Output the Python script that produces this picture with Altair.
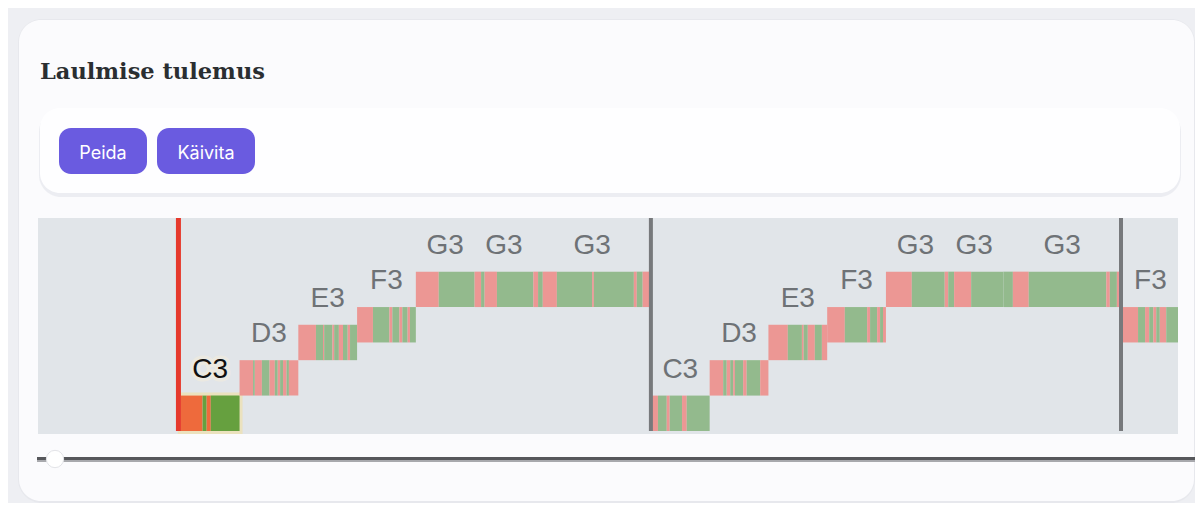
import altair as alt
import pandas as pd

# ---------------- data ----------------
TITLE = "Laulmise tulemus"
BUTTONS = ["Peida", "Käivita"]

NOTE_NAMES = ["C3", "D3", "E3", "F3", "G3", "G3", "G3",
              "C3", "D3", "E3", "F3", "G3", "G3", "G3", "F3"]
NOTE_PITCH = [48, 50, 52, 53, 55, 55, 55, 48, 50, 52, 53, 55, 55, 55, 53]
NOTE_START = [0, 1, 2, 3, 4, 5, 6, 8, 9, 10, 11, 12, 13, 14, 16]
NOTE_BEATS = [1, 1, 1, 1, 1, 1, 2, 1, 1, 1, 1, 1, 1, 2, 1]

# interior edges (in beats) where the sung pitch switched between miss / hit
STRIPE_EDGES = [
    [0.37, 0.44, 0.51],
    [1.23, 1.26, 1.38, 1.51, 1.60, 1.65, 1.69, 1.74, 1.80, 1.84],
    [2.30, 2.42, 2.44, 2.58, 2.61, 2.69, 2.76, 2.84, 2.88],
    [3.27, 3.55, 3.60, 3.72, 3.77, 3.86, 3.90],
    [4.39],
    [5.11, 5.17, 5.38],
    [6.08, 6.16, 6.40, 7.00, 7.03, 7.71, 7.76, 7.86],
    [8.12, 8.27, 8.32, 8.53, 8.61],
    [9.23, 9.29, 9.35, 9.40, 9.43, 9.57, 9.63, 9.86],
    [10.33, 10.57, 10.60, 10.67, 10.79, 10.91],
    [11.30, 11.68, 11.73, 11.85, 11.90, 11.95],
    [12.44],
    [13.06, 13.16, 13.45],
    [14.16, 14.43, 15.75, 15.81, 15.93],
    [16.29, 16.41, 16.48, 16.55, 16.60, 16.66, 16.77],
]
STRIPE_FIRST = ["miss"] * 13 + ["hit", "miss"]
ACTIVE_NOTE = 0
BAR_LINES = [8, 16]
PLAYHEAD = [-0.04]

# ---------------- tables ----------------
stripes = []
for i, (p, s, d, edges, first) in enumerate(
        zip(NOTE_PITCH, NOTE_START, NOTE_BEATS, STRIPE_EDGES, STRIPE_FIRST)):
    bounds = [s] + edges + [s + d]
    kind = first
    for a, b in zip(bounds[:-1], bounds[1:]):
        stripes.append(dict(t0=a, t1=b, p0=p, p1=p + 2,
                            kind=kind + ("_active" if i == ACTIVE_NOTE else "")))
        kind = "hit" if kind == "miss" else "miss"
stripes = pd.DataFrame(stripes)

notes = pd.DataFrame(dict(name=NOTE_NAMES, pitch=NOTE_PITCH,
                          start=NOTE_START, beats=NOTE_BEATS))
notes["end"] = notes["start"] + notes["beats"]
notes["mid"] = notes["start"] + notes["beats"] / 2
notes["top"] = notes["pitch"] + 2
notes["lab"] = notes["pitch"] + 3.0
notes["active"] = notes.index == ACTIVE_NOTE

bars = pd.DataFrame(dict(t=BAR_LINES))
play = pd.DataFrame(dict(t=PLAYHEAD))
one = pd.DataFrame(dict(k=[0]))

W, H = 1140, 216
xs = alt.Scale(domain=[-2.43, 16.97], nice=False, zero=False)
ys = alt.Scale(domain=[47.83, 60.03], nice=False, zero=False)


def box(x1, y1, x2, y2, color, r=0, **kw):
    return alt.Chart(one).mark_rect(color=color, cornerRadius=r, **kw).encode(
        x=alt.value(x1), x2=alt.value(x2), y=alt.value(y1), y2=alt.value(y2))


def label(txt, x, y, **kw):
    return alt.Chart(one).mark_text(text=txt, **kw).encode(
        x=alt.value(x), y=alt.value(y))


card_shadow = box(-20, -199, 1157, 285, "#e4e5ea", 24, opacity=0.7)
card = box(-19, -198, 1156, 283, "#fbfbfd", 22)
panel_shadow = box(1, -108, 1143, -21, "#e6e7ed", 22, opacity=0.7)
panel = box(2, -110, 1142, -25, "#fefeff", 20)
btn1 = box(21, -90, 109, -44, "#6a5be0", 12)
btn2 = box(119, -90, 217, -44, "#6a5be0", 12)
btn1_t = label(BUTTONS[0], 65, -59, font="Inter", fontSize=18, color="white",
               align="center", baseline="alphabetic")
btn2_t = label(BUTTONS[1], 168, -59, font="Inter", fontSize=18, color="white",
               align="center", baseline="alphabetic")
title = label(TITLE, 2, -139, font="DejaVu Serif", fontSize=22.5, fontWeight="bold",
              color="#2a2e31", align="left", baseline="alphabetic")
roll_bg = box(0, 0, W, H, "#e1e5e9", 0)

X0 = alt.X("t0:Q", scale=xs, axis=None)
Y0 = alt.Y("p0:Q", scale=ys, axis=None)

glow = alt.Chart(notes[notes.active]).mark_rect(
    filled=False, stroke="#f2dfa2", strokeWidth=6, strokeOpacity=0.6).encode(
    x=alt.X("start:Q", scale=xs, axis=None), x2="end:Q",
    y=alt.Y("pitch:Q", scale=ys, axis=None), y2="top:Q")

stripe_layer = alt.Chart(stripes).mark_rect(clip=True).encode(
    x=X0, x2="t1:Q", y=Y0, y2="p1:Q",
    color=alt.Color("kind:N", legend=None, scale=alt.Scale(
        domain=["miss", "hit", "miss_active", "hit_active"],
        range=["#ec9794", "#93ba8d", "#ee6a3c", "#66a03f"])))

bar_layer = alt.Chart(bars).mark_rule(color="#77797c", strokeWidth=4).encode(
    x=alt.X("t:Q", scale=xs, axis=None), y=alt.value(0), y2=alt.value(213))

play_layer = alt.Chart(play).mark_rule(color="#e6392c", strokeWidth=5).encode(
    x=alt.X("t:Q", scale=xs, axis=None), y=alt.value(0), y2=alt.value(213))

lab_enc = dict(x=alt.X("mid:Q", scale=xs, axis=None),
               y=alt.Y("lab:Q", scale=ys, axis=None), text="name:N")
labels_dim = alt.Chart(notes[~notes.active]).mark_text(
    font="Liberation Sans", fontSize=28, color="#6e7276",
    align="center", baseline="alphabetic").encode(**lab_enc)
labels_halo = alt.Chart(notes[notes.active]).mark_text(
    font="Liberation Sans", fontSize=28, color="#efebe0", stroke="#efebe0",
    strokeWidth=7, strokeOpacity=0.8, align="center", baseline="alphabetic").encode(**lab_enc)
labels_act = alt.Chart(notes[notes.active]).mark_text(
    font="Liberation Sans", fontSize=28, color="#111111",
    align="center", baseline="alphabetic").encode(**lab_enc)

track1 = alt.Chart(one).mark_rule(color="#56575b", strokeWidth=3).encode(
    x=alt.value(-1), x2=alt.value(1158), y=alt.value(240.5))
track2 = alt.Chart(one).mark_rule(color="#a8a9ad", strokeWidth=2).encode(
    x=alt.value(-1), x2=alt.value(1158), y=alt.value(243))
thumb = alt.Chart(one).mark_circle(size=300, color="#ffffff", opacity=1,
                                   stroke="#e3e4e8", strokeWidth=1).encode(
    x=alt.value(17), y=alt.value(241))

chart = alt.layer(
    card_shadow, card, title, panel_shadow, panel, btn1, btn2, btn1_t, btn2_t,
    roll_bg, glow, stripe_layer, bar_layer, play_layer,
    labels_dim, labels_halo, labels_act, track1, track2, thumb,
).properties(
    width=W, height=H,
    autosize=alt.AutoSizeParams(type="none"),
    padding={"left": 30, "top": 210, "right": 17, "bottom": 69},
    background="#eeeff3",
).configure_view(strokeWidth=0)

chart.save("out.html", embed_options={"renderer": "svg", "actions": False})
